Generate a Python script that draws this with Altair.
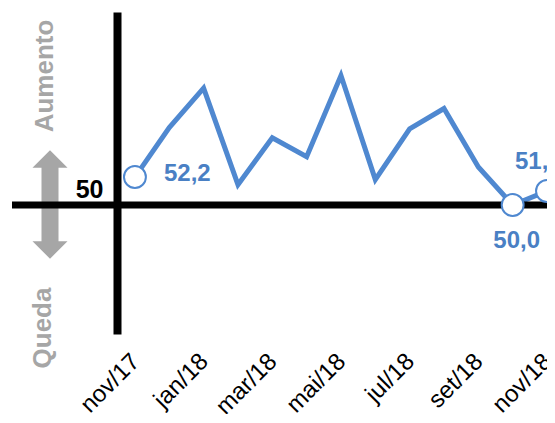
import altair as alt
import pandas as pd

# ---- data ----
months = ["nov/17", "dez/17", "jan/18", "fev/18", "mar/18", "abr/18", "mai/18",
          "jun/18", "jul/18", "ago/18", "set/18", "out/18", "nov/18"]
values = [52.2, 56.1, 59.2, 51.6, 55.3, 53.8, 60.2, 52.0, 56.0, 57.6, 53.0, 50.0, 51.1]
tick_index = [0, 2, 4, 6, 8, 10, 12]
labeled_months = ["nov/17", "out/18", "nov/18"]
label_texts = ["52,2", "50,0", "51,1"]
reference_value = 50

BLUE = "#4F88D0"
BLUE_TXT = "#4A80C4"
GRAY = "#A6A6A6"
FONT = "Liberation Sans"

df = pd.DataFrame({"i": list(range(len(months))), "mes": months, "v": values})
lab = pd.DataFrame({"mes": labeled_months, "txt": label_texts})
df_lab = df.merge(lab, on="mes")

months_js = "[" + ",".join(f"'{m}'" for m in months) + "]"

x_enc = alt.X(
    "i:Q",
    scale=alt.Scale(domain=[-0.5225, 12.0], nice=False, zero=False),
    axis=alt.Axis(
        values=tick_index, labelExpr=f"{months_js}[datum.value]",
        domain=False, ticks=False, grid=False, labelAngle=-45,
        labelAlign="right", labelBaseline="top", labelPadding=15,
        labelOffset=-8,
        labelFont=FONT, labelFontSize=24, labelColor="black",
        labelOverlap=False, labelFlush=False, labelBound=False,
    ),
    title=None,
)
y_enc = alt.Y(
    "v:Q",
    scale=alt.Scale(domain=[39.84, 65.2], nice=False, zero=False),
    axis=alt.Axis(
        values=[reference_value], domain=True, domainColor="black", domainWidth=8,
        ticks=False, grid=False, labelFont=FONT, labelFontSize=25,
        labelFontWeight="bold", labelColor="black", labelBaseline="alphabetic",
        labelOffset=-7, labelPadding=14,
    ),
    title=None,
)

dummy = pd.DataFrame({"k": [0]})

arrow_shaft = alt.Chart(dummy).mark_rule(color=GRAY, strokeWidth=17).encode(
    x=alt.value(-67), y=alt.value(152), y2=alt.value(234))
arrow_up = alt.Chart(dummy).mark_point(
    shape="M-1,0.5L0,-0.5L1,0.5Z", size=1225, filled=True, color=GRAY, opacity=1, strokeWidth=0
).encode(x=alt.value(-67), y=alt.value(147))
arrow_down = alt.Chart(dummy).mark_point(
    shape="M-1,-0.5L0,0.5L1,-0.5Z", size=1225, filled=True, color=GRAY, opacity=1, strokeWidth=0
).encode(x=alt.value(-67), y=alt.value(238))
txt_up = alt.Chart(dummy).mark_text(
    text="Aumento", angle=270, font=FONT, fontSize=26, fontWeight="bold", color=GRAY,
    align="center", baseline="middle"
).encode(x=alt.value(-72), y=alt.value(64))
txt_down = alt.Chart(dummy).mark_text(
    text="Queda", angle=270, font=FONT, fontSize=26, fontWeight="bold", color=GRAY,
    align="center", baseline="middle"
).encode(x=alt.value(-74), y=alt.value(316))

rule50 = alt.Chart(dummy).mark_rule(color="black", strokeWidth=7).encode(
    y=alt.datum(reference_value), x=alt.value(-105), x2=alt.value(430))

line = alt.Chart(df).mark_line(color=BLUE, strokeWidth=5).encode(x=x_enc, y=y_enc)
pts = alt.Chart(df_lab).mark_point(
    filled=False, fill="white", color=BLUE, strokeWidth=2, size=480, opacity=1
).encode(x=alt.X("i:Q"), y=alt.Y("v:Q"))


def label(month, dx, dy, align):
    return alt.Chart(df_lab).transform_filter(alt.datum.mes == month).mark_text(
        font=FONT, fontSize=24, fontWeight="bold", color=BLUE_TXT,
        align=align, baseline="middle", dx=dx, dy=dy
    ).encode(x=alt.X("i:Q"), y=alt.Y("v:Q"), text="txt:N")


chart = alt.layer(
    arrow_shaft, arrow_up, arrow_down, txt_up, txt_down,
    line, rule50, pts,
    label("nov/17", 29, -3, "left"),
    label("out/18", 4, 36, "center"),
    label("nov/18", -32, -29, "left"),
).properties(
    width=430, height=322,
    autosize=alt.AutoSizeParams(type="none"),
    padding={"left": 109, "top": 4, "right": 0, "bottom": 80},
).configure_view(stroke=None)

chart.save("out.html", embed_options={"renderer": "svg", "actions": False})
